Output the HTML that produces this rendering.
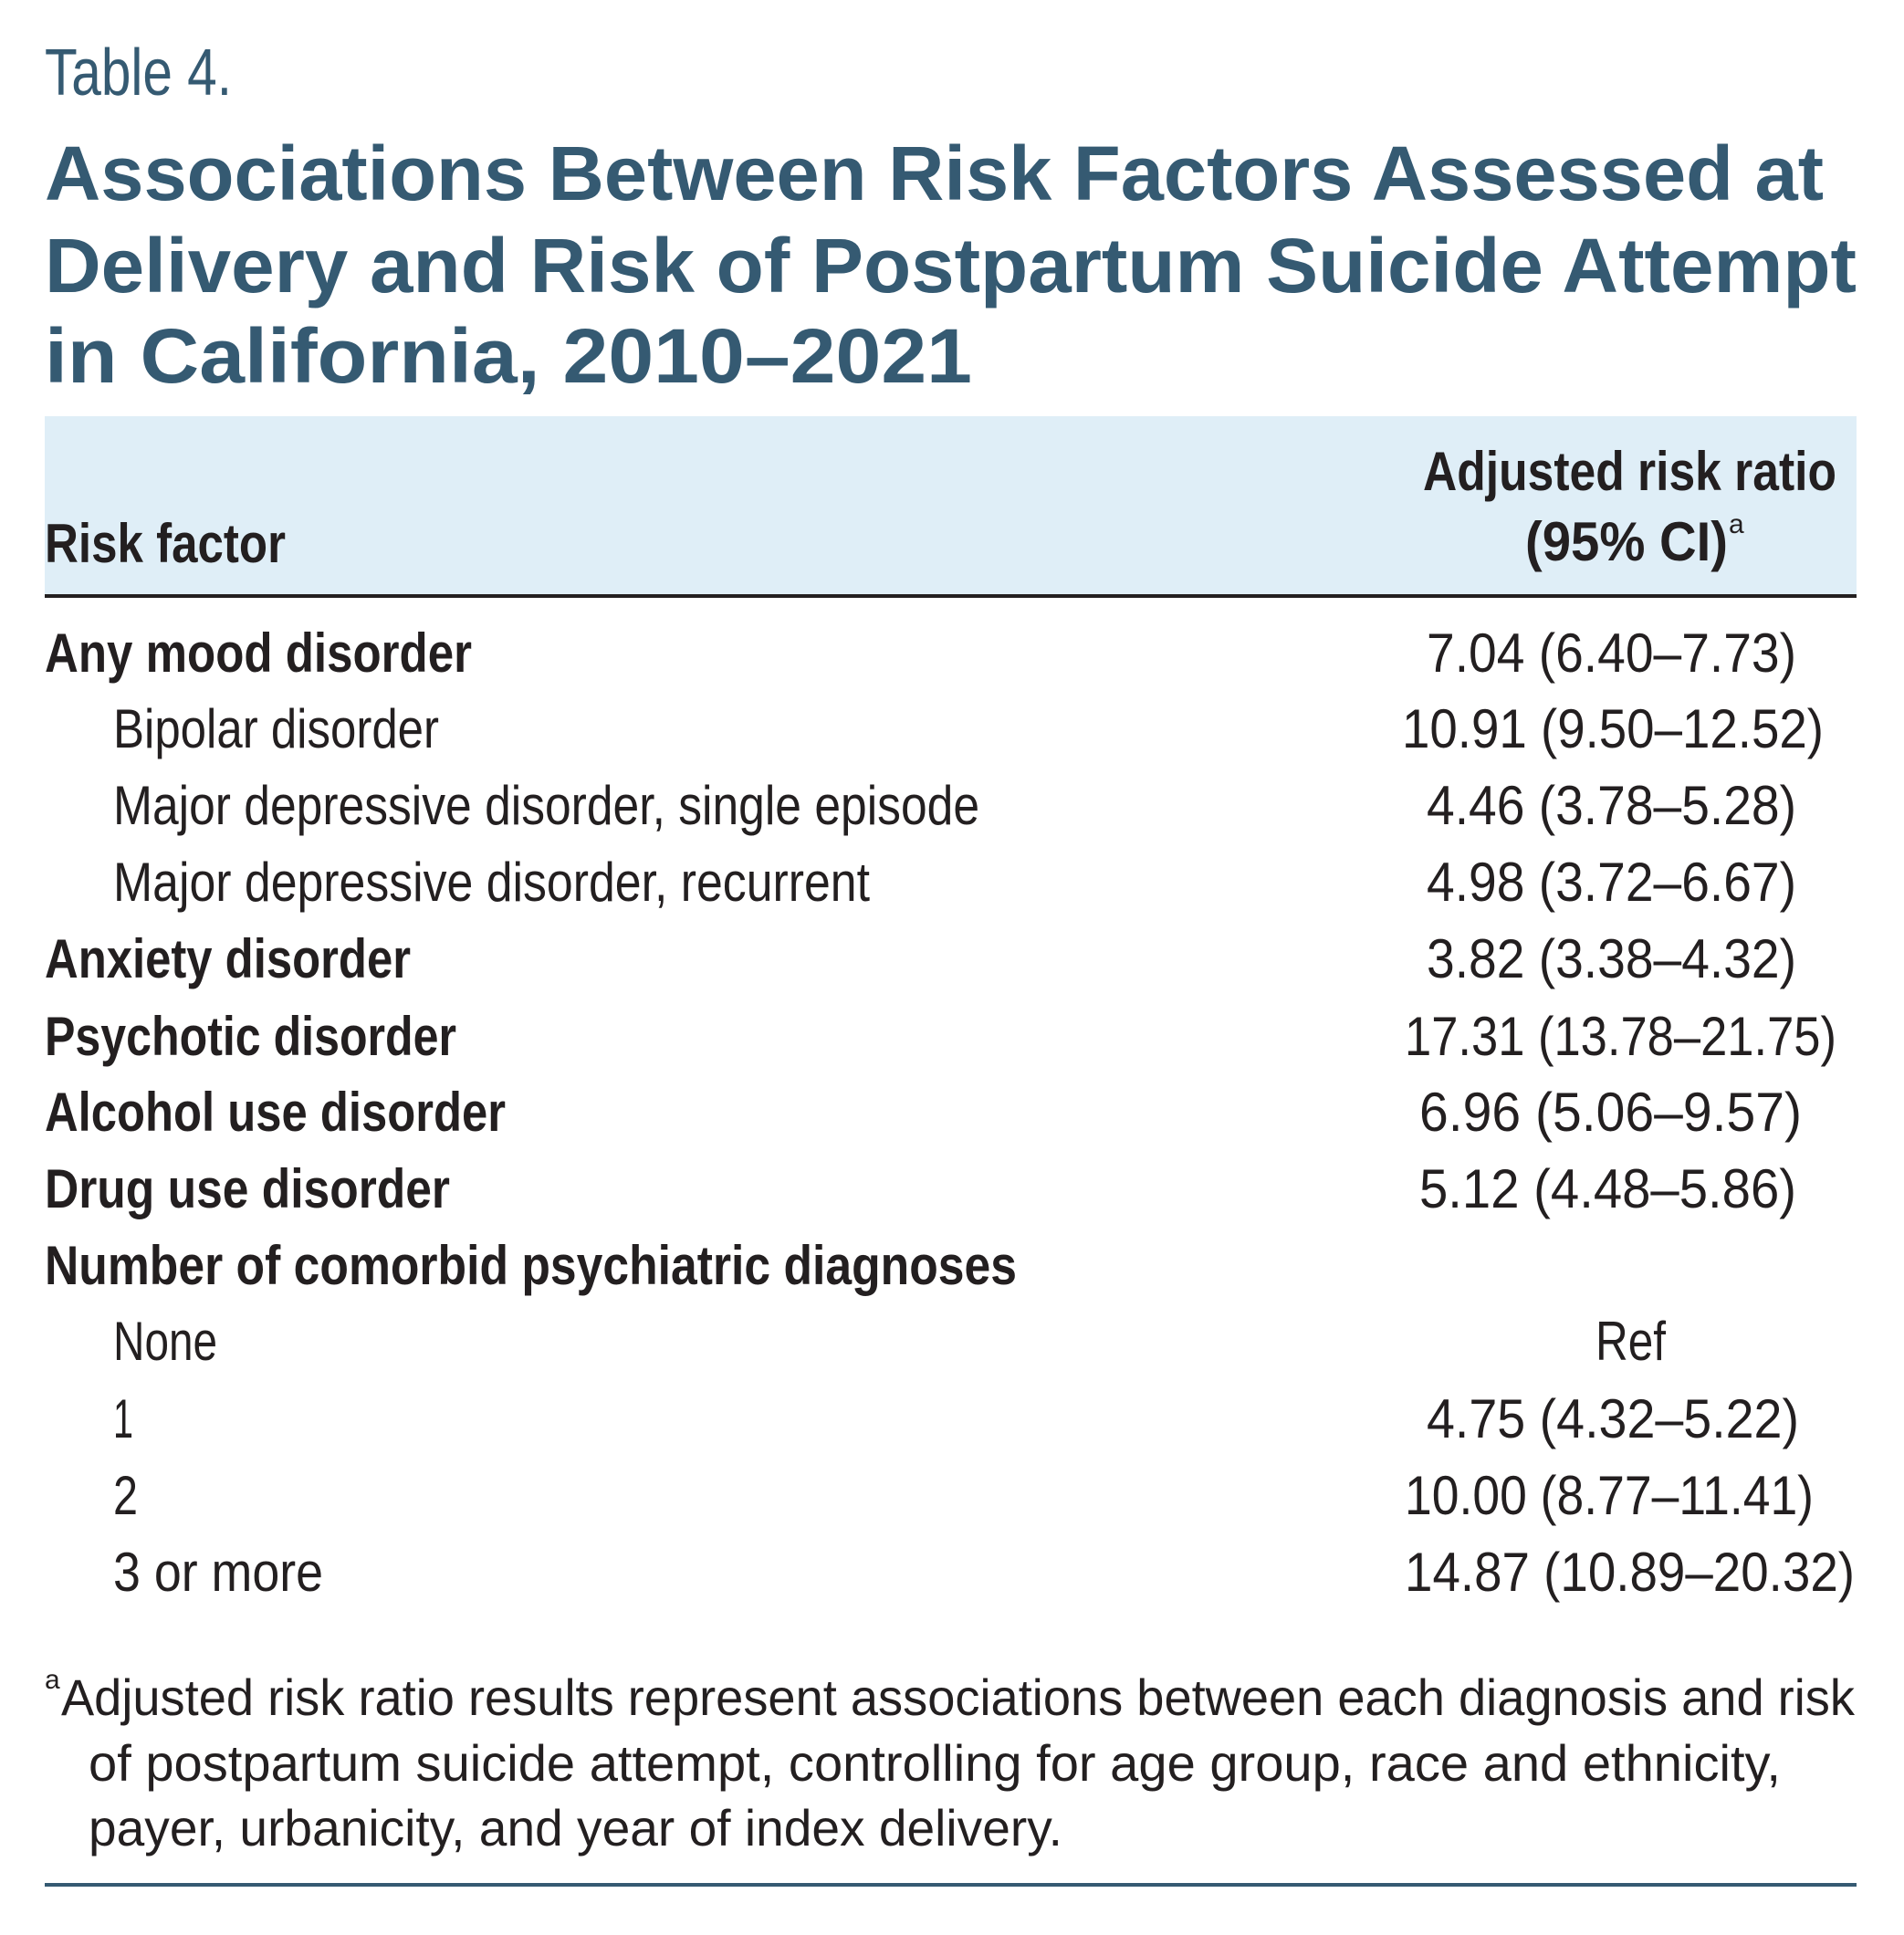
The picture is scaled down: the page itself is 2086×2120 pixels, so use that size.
<!DOCTYPE html>
<html><head><meta charset="utf-8"><style>
html,body{margin:0;padding:0;background:#fff}
svg{display:block}
.t{font-family:"Liberation Sans",sans-serif;fill:#231f20}
.b{font-weight:bold}
.ti{fill:#355a72;font-weight:bold}
</style></head><body>
<svg width="2086" height="2120" viewBox="0 0 2086 2120">
<text class="t" x="49" y="104" font-size="72" textLength="205" lengthAdjust="spacingAndGlyphs" style="fill:#355a72">Table 4.</text>
<g>
<text class="t ti" x="49" y="219" font-size="84" textLength="1949" lengthAdjust="spacingAndGlyphs">Associations Between Risk Factors Assessed at</text>
<text class="t ti" x="49" y="320" font-size="84" textLength="1985" lengthAdjust="spacingAndGlyphs">Delivery and Risk of Postpartum Suicide Attempt</text>
<text class="t ti" x="49" y="419" font-size="84" textLength="1016" lengthAdjust="spacingAndGlyphs">in California, 2010–2021</text>
</g>
<rect x="49" y="456" width="1985" height="197" fill="#dfeef7"/>
<rect x="49" y="651" width="1985" height="4" fill="#231f20"/>
<text class="t b" x="49" y="616" font-size="60" textLength="264" lengthAdjust="spacingAndGlyphs">Risk factor</text>
<text class="t b" x="1559" y="537" font-size="60" textLength="453" lengthAdjust="spacingAndGlyphs">Adjusted risk ratio</text>
<text class="t b" x="1671" y="614" font-size="60" textLength="222" lengthAdjust="spacingAndGlyphs">(95% CI)</text>
<text class="t" x="1894" y="584" font-size="30">a</text>

<g>
<text class="t b" x="49" y="736" font-size="60" textLength="468" lengthAdjust="spacingAndGlyphs">Any mood disorder</text>
<text class="t" x="124" y="819" font-size="60" textLength="357" lengthAdjust="spacingAndGlyphs">Bipolar disorder</text>
<text class="t" x="124" y="903" font-size="60" textLength="949" lengthAdjust="spacingAndGlyphs">Major depressive disorder, single episode</text>
<text class="t" x="124" y="987" font-size="60" textLength="829" lengthAdjust="spacingAndGlyphs">Major depressive disorder, recurrent</text>
<text class="t b" x="49" y="1071" font-size="60" textLength="401" lengthAdjust="spacingAndGlyphs">Anxiety disorder</text>
<text class="t b" x="49" y="1156" font-size="60" textLength="451" lengthAdjust="spacingAndGlyphs">Psychotic disorder</text>
<text class="t b" x="49" y="1239" font-size="60" textLength="505" lengthAdjust="spacingAndGlyphs">Alcohol use disorder</text>
<text class="t b" x="49" y="1323" font-size="60" textLength="444" lengthAdjust="spacingAndGlyphs">Drug use disorder</text>
<text class="t b" x="49" y="1407" font-size="60" textLength="1065" lengthAdjust="spacingAndGlyphs">Number of comorbid psychiatric diagnoses</text>
<text class="t" x="124" y="1490" font-size="60" textLength="114" lengthAdjust="spacingAndGlyphs">None</text>
<text class="t" x="124" y="1575" font-size="60" textLength="22" lengthAdjust="spacingAndGlyphs">1</text>
<text class="t" x="124" y="1659" font-size="60" textLength="27" lengthAdjust="spacingAndGlyphs">2</text>
<text class="t" x="124" y="1743" font-size="60" textLength="230" lengthAdjust="spacingAndGlyphs">3 or more</text>
</g>
<g>
<text class="t" x="1563" y="736" font-size="60" textLength="405" lengthAdjust="spacingAndGlyphs">7.04 (6.40–7.73)</text>
<text class="t" x="1536" y="819" font-size="60" textLength="462" lengthAdjust="spacingAndGlyphs">10.91 (9.50–12.52)</text>
<text class="t" x="1563" y="903" font-size="60" textLength="405" lengthAdjust="spacingAndGlyphs">4.46 (3.78–5.28)</text>
<text class="t" x="1563" y="987" font-size="60" textLength="405" lengthAdjust="spacingAndGlyphs">4.98 (3.72–6.67)</text>
<text class="t" x="1563" y="1071" font-size="60" textLength="405" lengthAdjust="spacingAndGlyphs">3.82 (3.38–4.32)</text>
<text class="t" x="1539" y="1156" font-size="60" textLength="473" lengthAdjust="spacingAndGlyphs">17.31 (13.78–21.75)</text>
<text class="t" x="1555" y="1239" font-size="60" textLength="419" lengthAdjust="spacingAndGlyphs">6.96 (5.06–9.57)</text>
<text class="t" x="1555" y="1323" font-size="60" textLength="413" lengthAdjust="spacingAndGlyphs">5.12 (4.48–5.86)</text>
<text class="t" x="1748" y="1490" font-size="60" textLength="77" lengthAdjust="spacingAndGlyphs">Ref</text>
<text class="t" x="1563" y="1575" font-size="60" textLength="408" lengthAdjust="spacingAndGlyphs">4.75 (4.32–5.22)</text>
<text class="t" x="1539" y="1659" font-size="60" textLength="448" lengthAdjust="spacingAndGlyphs">10.00 (8.77–11.41)</text>
<text class="t" x="1539" y="1743" font-size="60" textLength="493" lengthAdjust="spacingAndGlyphs">14.87 (10.89–20.32)</text>
</g>
<g>
<text class="t" x="49" y="1850" font-size="30">a</text>
<text class="t" x="67" y="1879" font-size="56" textLength="1965" lengthAdjust="spacingAndGlyphs">Adjusted risk ratio results represent associations between each diagnosis and risk</text>
<text class="t" x="97" y="1951" font-size="56" textLength="1854" lengthAdjust="spacingAndGlyphs">of postpartum suicide attempt, controlling for age group, race and ethnicity,</text>
<text class="t" x="97" y="2022" font-size="56" textLength="1067" lengthAdjust="spacingAndGlyphs">payer, urbanicity, and year of index delivery.</text>
</g>
<rect x="49" y="2063" width="1985" height="4" fill="#355a72"/>
</svg>
</body></html>
